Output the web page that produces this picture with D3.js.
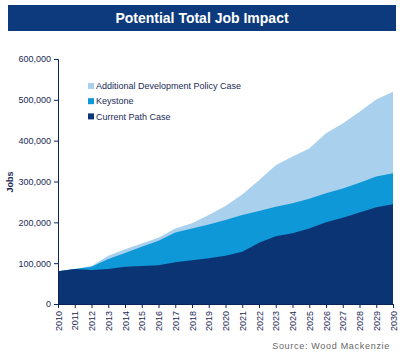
<!DOCTYPE html>
<html><head><meta charset="utf-8">
<script src="https://cdn.jsdelivr.net/npm/d3@7"></script>
<style>body{margin:0;background:#fff;}svg{display:block;font-family:Arial,"Liberation Sans",sans-serif;}</style>
</head><body>
<svg id="c" width="409" height="359"></svg>
<script>
const years = d3.range(2010, 2031);
const currentPath = [80,86,83,86,91,93,95,102,107,112,118,128,150,166,173,185,200,211,224,237,244].map(v=>v*1000);
const keystone    = [80,86,91,110,125,140,155,175,185,195,206,218,228,238,247,258,271,283,297,312,320].map(v=>v*1000);
const additional  = [80,86,93,118,134,148,162,185,198,218,240,268,303,340,361,381,418,442,471,501,520].map(v=>v*1000);
const yTicks = [0,100000,200000,300000,400000,500000,600000];
const seriesNames = ["Additional Development Policy Case","Keystone","Current Path Case"];
const colors = ["#a9d0ec","#0f98d7","#0b3475"];

const svg = d3.select("#c");
const x = d3.scaleLinear().domain([2010,2030]).range([58,393]);
const y = d3.scaleLinear().domain([0,600000]).range([304,59]);

// title bar
svg.append("rect").attr("x",8).attr("y",5).attr("width",388).attr("height",26).attr("fill","#0c3a7c");
svg.append("text").attr("x",202).attr("y",23).attr("text-anchor","middle").attr("fill","#fff")
  .attr("font-weight","bold").attr("font-size",14).text("Potential Total Job Impact");

const area = d3.area().x((d,i)=>x(years[i])).y0(y(0)).y1(d=>y(d));
[additional, keystone, currentPath].forEach((s,i)=>{
  svg.append("path").datum(s).attr("d",area).attr("fill",colors[i]);
});

const axisColor = "#0b2458";
const yAxis = svg.append("g").attr("transform","translate(58,0)")
  .call(d3.axisLeft(y).tickValues(yTicks).tickSize(4).tickFormat(d3.format(",")));
yAxis.selectAll("text").attr("font-size",9).attr("fill","#1a2a55").attr("font-family","Arial,'Liberation Sans',sans-serif");
yAxis.selectAll("line,path").attr("stroke",axisColor);

const xAxis = svg.append("g").attr("transform","translate(0,304)")
  .call(d3.axisBottom(x).tickValues(years).tickSize(4).tickFormat(d3.format("d")));
xAxis.selectAll("line,path").attr("stroke",axisColor);
xAxis.selectAll("text").attr("font-size",9).attr("fill","#1a2a55").attr("font-family","Arial,'Liberation Sans',sans-serif")
  .attr("transform","rotate(-90)").attr("text-anchor","end").attr("x",-7).attr("y",0).attr("dy","0.35em");

svg.append("text").attr("transform","translate(13,182) rotate(-90)").attr("text-anchor","middle")
  .attr("font-size",9).attr("font-weight","bold").attr("fill","#1a2a55").text("Jobs");

// legend
seriesNames.forEach((n,i)=>{
  const ly = 86 + i*15.2;
  svg.append("rect").attr("x",88).attr("y",ly-3).attr("width",6).attr("height",6).attr("fill",colors[i]);
  svg.append("text").attr("x",96).attr("y",ly).attr("dy","0.35em").attr("font-size",9).attr("fill","#1a2a55").text(n);
});

svg.append("text").attr("x",390).attr("y",349).attr("text-anchor","end").attr("font-size",9)
  .attr("letter-spacing","0.7px").attr("fill","#666").text("Source: Wood Mackenzie");
</script>
</body></html>
